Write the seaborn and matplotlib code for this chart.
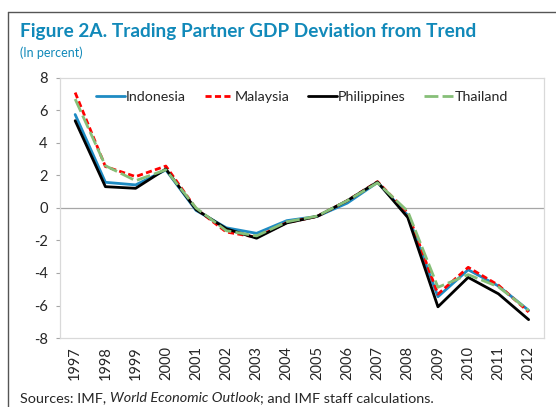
import pandas as pd
import numpy as np
import matplotlib
matplotlib.use('Agg')
from matplotlib import pyplot as plt
from matplotlib.lines import Line2D
import seaborn as sns

years = list(range(1997, 2013))
indonesia = [5.75, 1.58, 1.42, 2.34, -0.15, -1.22, -1.56, -0.78, -0.52, 0.30, 1.57, -0.45, -5.46, -3.80, -4.80, -6.30]
malaysia = [7.10, 2.55, 1.93, 2.58, -0.05, -1.48, -1.80, -0.90, -0.52, 0.45, 1.62, -0.30, -5.30, -3.65, -4.75, -6.40]
philippines = [5.37, 1.31, 1.21, 2.40, -0.10, -1.28, -1.86, -0.92, -0.52, 0.45, 1.60, -0.58, -6.08, -4.27, -5.28, -6.87]
thailand = [6.70, 2.60, 1.68, 2.35, 0.00, -1.40, -1.72, -0.85, -0.50, 0.45, 1.55, -0.20, -4.88, -4.10, -4.85, -6.30]
countries = ['Indonesia', 'Malaysia', 'Philippines', 'Thailand']

df = pd.DataFrame({'year': years * 4,
                   'value': indonesia + malaysia + philippines + thailand,
                   'country': np.repeat(countries, len(years))})

sns.set_style('white')
plt.rcParams['font.family'] = ['Lato', 'DejaVu Sans']
plt.rcParams['axes.unicode_minus'] = False

fig = plt.figure(figsize=(5.56, 4.07), dpi=100)
ax = fig.add_axes([0.108, 0.1695, 0.87, 0.639])

palette = {'Indonesia': '#1E8BC3', 'Malaysia': '#FF0000', 'Philippines': '#000000', 'Thailand': '#86BF78'}
dashes = {'Indonesia': '', 'Malaysia': (2.2, 1.2), 'Philippines': '', 'Thailand': (5, 1.5)}
sns.lineplot(data=df, x='year', y='value', hue='country', style='country',
             palette=palette, dashes=dashes, linewidth=2, ax=ax)

ax.axhline(0, color='#A6A6A6', linewidth=0.9, zorder=0)
ax.set_xlim(1996.5, 2012.5)
ax.set_ylim(-8, 8)
ax.set_yticks(range(-8, 9, 2))
ax.set_xticks(years)
ax.set_xticklabels([str(y) for y in years], rotation=90, fontsize=10.5)
ax.tick_params(axis='y', labelsize=10.5, length=3, left=True, color='#A6A6A6', pad=6)
ax.tick_params(axis='x', length=0, pad=6)
ax.set_xlabel('')
ax.set_ylabel('')
for s in ax.spines.values():
    s.set_color('#D9D9D9')
    s.set_linewidth(0.9)

leg = ax.legend(loc='upper center', ncol=4, frameon=False, fontsize=10.3,
                handlelength=2.0, handletextpad=0.1, columnspacing=1.3,
                bbox_to_anchor=(0.5, 1.0))
for line in leg.get_lines():
    line.set_linewidth(2)

# outer box lines
fig.add_artist(Line2D([8 / 556, 8 / 556], [0, 1 - 12 / 407], transform=fig.transFigure, color='#555555', lw=1))
fig.add_artist(Line2D([8 / 556, 1], [1 - 12 / 407, 1 - 12 / 407], transform=fig.transFigure, color='#555555', lw=1))

title_color = '#1189B9'
fig.text(20 / 556, 1 - 32 / 407, 'Figure 2A. Trading Partner GDP Deviation from Trend',
         fontsize=13.7, fontweight='bold', color=title_color, va='center')
fig.text(20 / 556, 1 - 53 / 407, '(In percent)', fontsize=9, color=title_color, va='center')

t1 = fig.text(20 / 556, 1 - 398 / 407, 'Sources: IMF, ', fontsize=10.4, va='center')
fig.canvas.draw()
r = fig.canvas.get_renderer()
bb = t1.get_window_extent(r)
t2 = fig.text(bb.x1 / fig.bbox.width, 1 - 398 / 407, 'World Economic Outlook', fontsize=10.4,
              style='italic', va='center')
bb2 = t2.get_window_extent(r)
fig.text(bb2.x1 / fig.bbox.width, 1 - 398 / 407, '; and IMF staff calculations.', fontsize=10.4, va='center')

fig.savefig('out.png', dpi=100)
